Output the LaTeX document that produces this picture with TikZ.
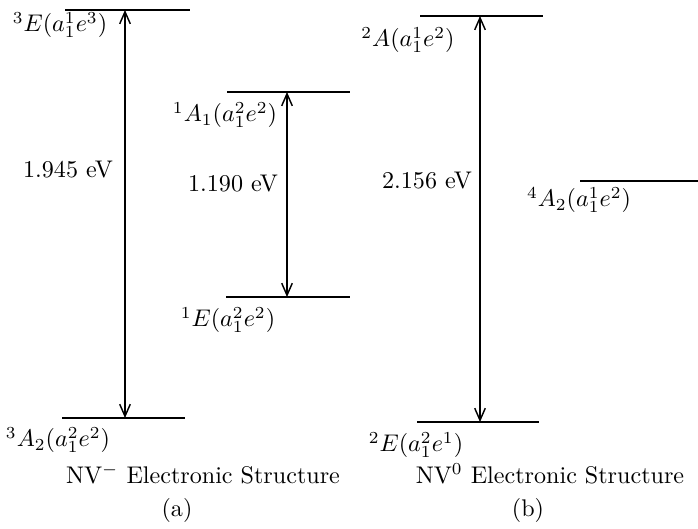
\documentclass[tikz,border=0pt]{standalone}
\usetikzlibrary{arrows.meta}
\begin{document}
\begin{tikzpicture}[x=0.415pt,y=-0.415pt,
  level/.style={line width=0.6pt},
  gap/.style={{Straight Barb[length=5pt,width=4.4pt]}-{Straight Barb[length=5pt,width=4.4pt]},line width=0.6pt},
  lbl/.style={inner sep=0pt,anchor=center}]
\useasboundingbox (0,0) rectangle (698,528);
% levels (a)
\coordinate (E3l) at (65,10);  \coordinate (E3r) at (190,10);
\coordinate (A32l) at (62,418); \coordinate (A32r) at (185,418);
\coordinate (A11l) at (227,92); \coordinate (A11r) at (350,92);
\coordinate (E1l) at (226,297); \coordinate (E1r) at (350,297);
% levels (b)
\coordinate (A2l) at (420,16); \coordinate (A2r) at (543,16);
\coordinate (E2l) at (417,422); \coordinate (E2r) at (539,422);
\coordinate (A42l) at (580,181); \coordinate (A42r) at (698,181);
\draw[level] (E3l) -- (E3r);
\draw[level] (A32l) -- (A32r);
\draw[level] (A11l) -- (A11r);
\draw[level] (E1l) -- (E1r);
\draw[level] (A2l) -- (A2r);
\draw[level] (E2l) -- (E2r);
\draw[level] (A42l) -- (A42r);
% arrow ends
\coordinate (g1t) at (125,10); \coordinate (g1b) at (125,418);
\coordinate (g2t) at (287,92); \coordinate (g2b) at (287,297);
\coordinate (g3t) at (480,16); \coordinate (g3b) at (480,422);
\draw[gap] (g1b) -- (g1t);
\draw[gap] (g2b) -- (g2t);
\draw[gap] (g3b) -- (g3t);
% labels
\node[lbl] (tE3) at (60,25) {$^3E(a_1^1e^3)$};
\node[lbl] (tA32) at (58,440) {$^3A_2(a_1^2e^2)$};
\node[lbl] (tA11) at (225,115) {$^1A_1(a_1^2e^2)$};
\node[lbl] (tE1) at (228,320) {$^1E(a_1^2e^2)$};
\node[lbl] (tA2) at (408,40) {$^2A(a_1^1e^2)$};
\node[lbl] (tE2) at (416,445) {$^2E(a_1^2e^1)$};
\node[lbl] (tA42) at (579,200) {$^4A_2(a_1^1e^2)$};
\node[lbl] (v1) at (68,170) {1.945 eV};
\node[lbl] (v2) at (233,184) {1.190 eV};
\node[lbl] (v3) at (427,181) {2.156 eV};
\node[lbl] (c1) at (203,474) {NV$^-$ Electronic Structure};
\node[lbl] (c2) at (550,474) {NV$^0$ Electronic Structure};
\node[lbl] (sa) at (177,510) {(a)};
\node[lbl] (sb) at (528,510) {(b)};
\end{tikzpicture}
\end{document}
